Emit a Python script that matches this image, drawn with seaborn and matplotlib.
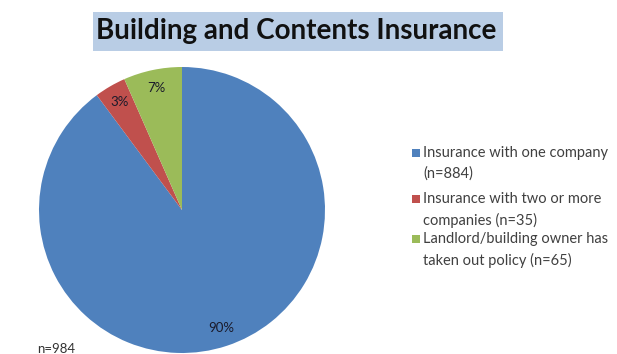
import matplotlib
matplotlib.use("Agg")
import matplotlib.pyplot as plt
from matplotlib.patches import Rectangle
import numpy as np
import seaborn as sns

# Survey responses on building and contents insurance
categories = [
    "Insurance with one company\n(n=884)",
    "Insurance with two or more\ncompanies (n=35)",
    "Landlord/building owner has\ntaken out policy (n=65)",
]
counts = [884, 35, 65]
pct_labels = ["90%", "3%", "7%"]
total_label = "n=984"
title = "Building and Contents Insurance"

sns.set_theme(style="white")
plt.rcParams["font.family"] = ["Lato", "DejaVu Sans"]

colors = ["#4F81BD", "#C0504D", "#9BBB59"]

W, H = 617, 354
fig = plt.figure(figsize=(W / 100, H / 100), dpi=100)
fig.patch.set_facecolor("white")

# Pie axes: centre at (182, 210) px, radius 143 px
cx, cy, r = 182, 210, 143
ax = fig.add_axes([(cx - r) / W, (H - cy - r) / H, 2 * r / W, 2 * r / H])
wedges, _ = ax.pie(
    counts,
    colors=colors,
    startangle=90,
    counterclock=False,
    radius=1,
    wedgeprops=dict(linewidth=0),
)
ax.set_xlim(-1, 1)
ax.set_ylim(-1, 1)
ax.set_aspect("equal")
ax.axis("off")

# Percentage labels placed along each wedge's mid-angle
for w, lab in zip(wedges, pct_labels):
    ang = np.deg2rad((w.theta1 + w.theta2) / 2)
    ax.text(0.87 * np.cos(ang), 0.87 * np.sin(ang), lab,
            ha="center", va="center", fontsize=9.5, color="#1a1a2a")

# Title with shaded band
fig.patches.append(Rectangle((93 / W, 1 - 51 / H), (503 - 93) / W, 39 / H,
                             transform=fig.transFigure, facecolor="#B9CDE5",
                             edgecolor="none", zorder=0))
fig.text(296.5 / W, 1 - 31.5 / H, title, ha="center", va="center",
         fontsize=20, fontweight="bold", color="#111111")

# Legend: colour square beside the first line of each entry
entry_tops = [153, 199, 239]
for lab, col, y in zip(categories, [w.get_facecolor() for w in wedges], entry_tops):
    fig.patches.append(Rectangle((412 / W, 1 - (y + 4) / H), 8 / W, 8 / H,
                                 transform=fig.transFigure, facecolor=col,
                                 edgecolor="none"))
    fig.text(423 / W, 1 - (y - 6.5) / H, lab, ha="left", va="top",
             fontsize=10.5, color="#404040", linespacing=1.55)

fig.text(37 / W, 1 - 343 / H, total_label, ha="left", va="top",
         fontsize=9.5, color="#333333")

fig.savefig("out.png", dpi=100)
